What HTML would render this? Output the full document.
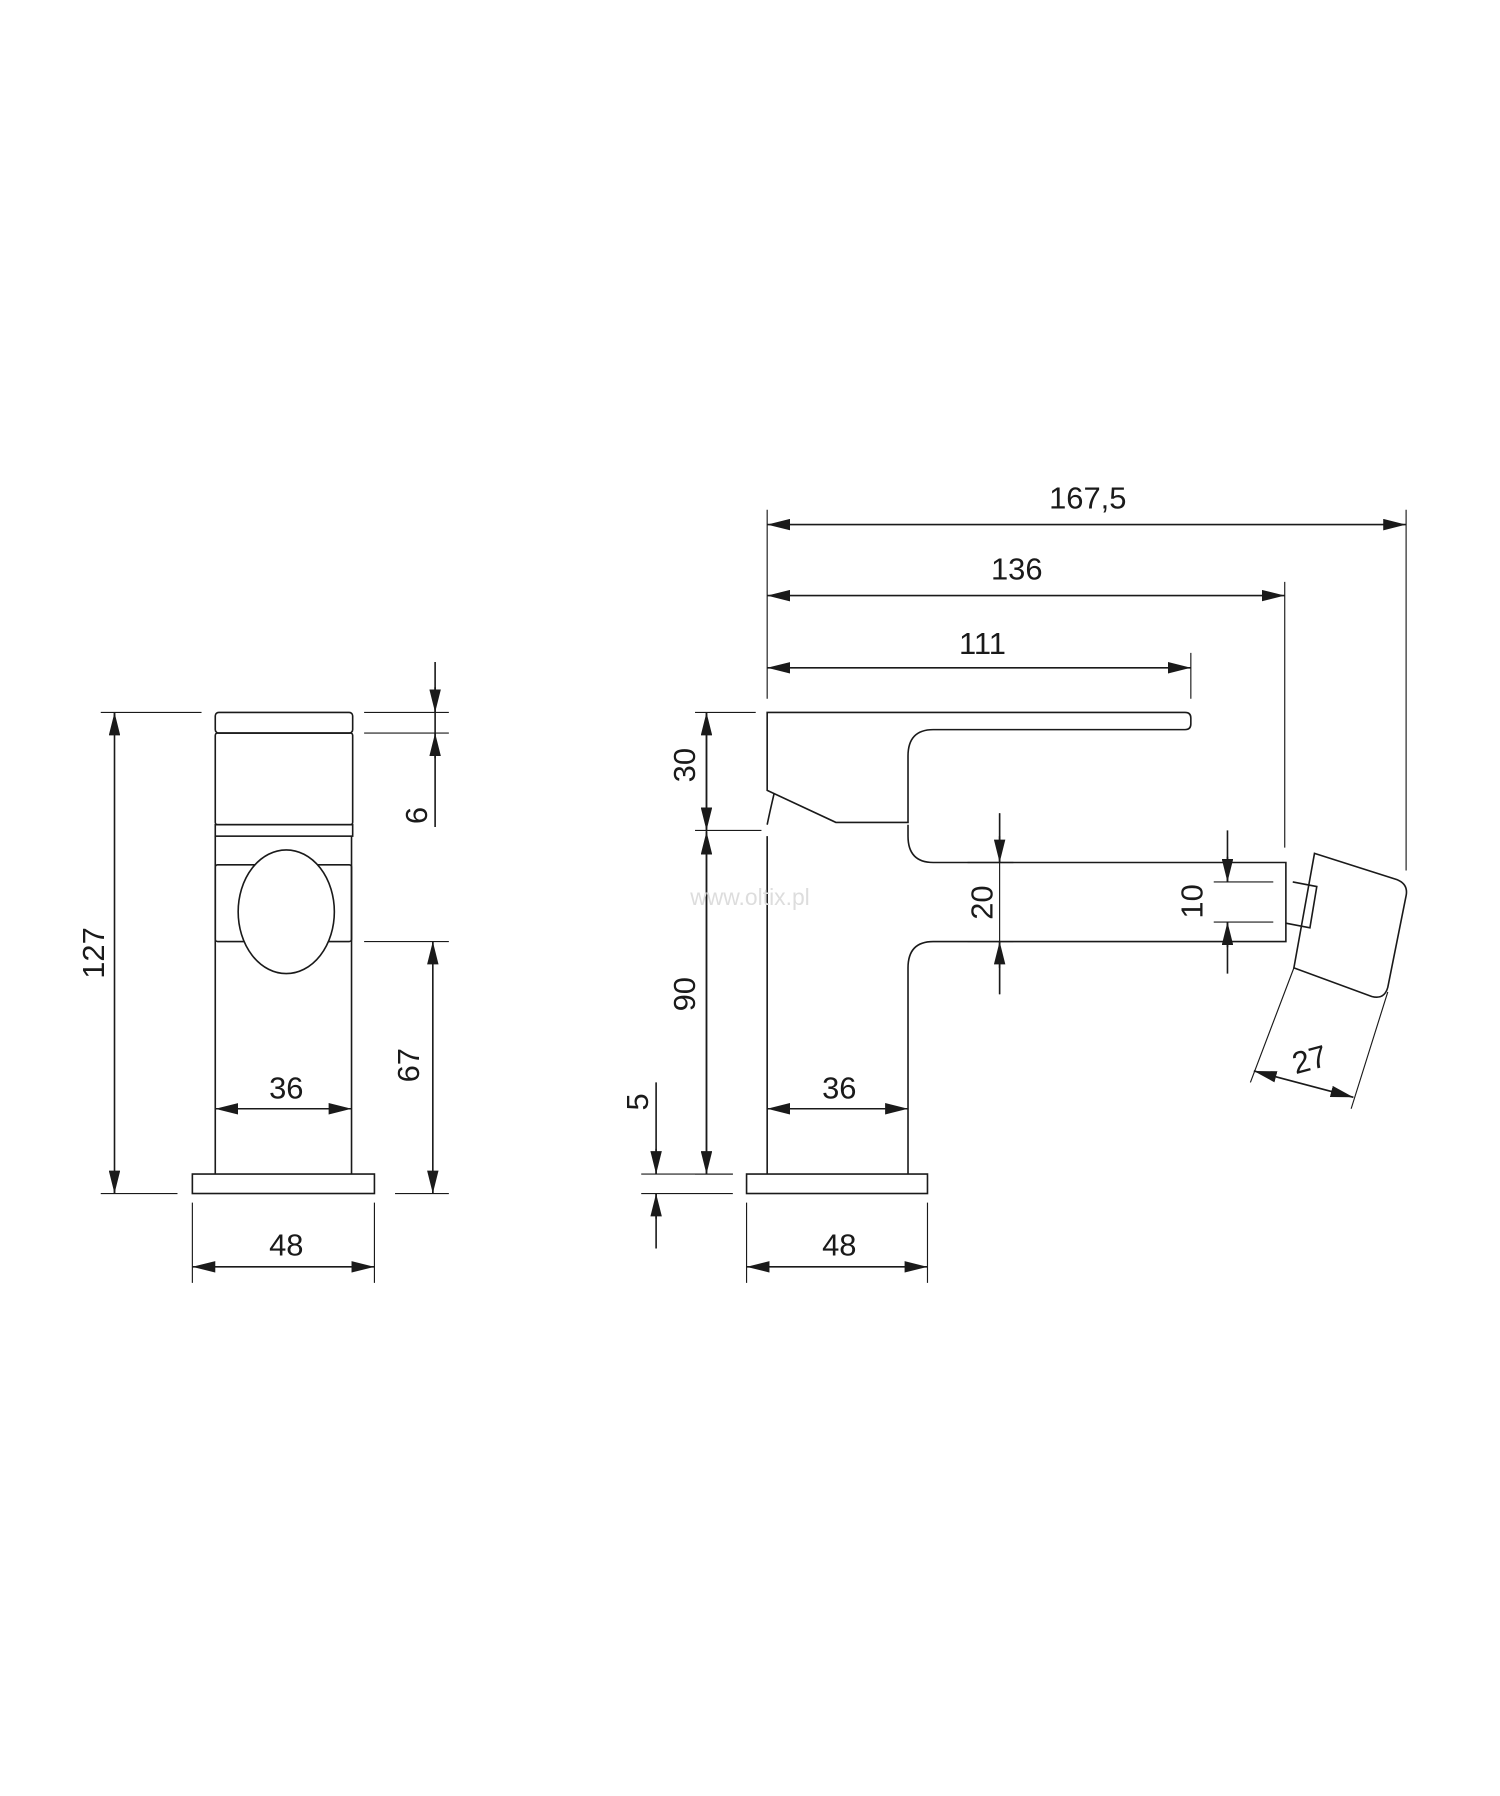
<!DOCTYPE html>
<html><head><meta charset="utf-8"><style>
html,body{margin:0;padding:0;background:#fff}
svg{display:block}
text{font-family:"Liberation Sans Narrow","Liberation Sans",sans-serif;font-size:27px;fill:#1a1a1a}
</style></head><body>
<svg width="1500" height="1796" viewBox="0 0 1310 1568" preserveAspectRatio="none" xmlns="http://www.w3.org/2000/svg">
<defs>
<marker id="a" viewBox="0 0 20 10" refX="20" refY="5" markerWidth="20" markerHeight="10" markerUnits="userSpaceOnUse" orient="auto-start-reverse"><path d="M0,0 L20,5 L0,10 z" fill="#1a1a1a"/></marker>
</defs>
<g fill="none" stroke="#1a1a1a" stroke-width="1.4">
<rect x="188" y="622" width="120" height="18" rx="3"/>
<rect x="188" y="640" width="120" height="80" rx="2"/>
<rect x="188" y="720" width="120" height="10"/>
<path d="M188 730 V1025 M307 730 V1025"/>
<rect x="188" y="755" width="119" height="67" rx="2"/>
<ellipse cx="250" cy="796" rx="42" ry="54" fill="#fff"/>
<rect x="168" y="1025" width="159" height="17"/>
<g stroke-width="1">
<path d="M88 622 H176 M88 1042 H155"/>
<path d="M318 622 H392 M318 640 H392 M318 822 H392 M345 1042 H392"/>
<path d="M168 1050 V1120 M327 1050 V1120"/>
</g>
<path d="M100 622 V1042"/>
<path d="M380 578 V722"/>
<path d="M378 822 V1042"/>
<path d="M670 622 H1035 Q1040 622 1040 627 V632 Q1040 637 1035 637 H815 Q793 637 793 660 V718 H730 L670 690 V622 Z"/>
<path d="M676 693 Q672 710 670 720"/>
<path d="M670 730 V1025"/>
<path d="M793 720 V730 Q793 753 815 753 H1123 V822 H815 Q793 822 793 845 V1025"/>
<rect x="652" y="1025" width="158" height="17"/>
<path d="M1129 770 L1150 774 L1144 810 L1123 806"/>
<path d="M1148 745 L1220 768 Q1230 772 1228 782 L1212 862 Q1209 873 1198 870 L1130 845 Z"/>
<g stroke-width="1">
<path d="M670 445 V610 M1228 445 V760 M1122 508 V740 M1040 570 V610"/>
<path d="M607 622 H660 M607 725 H665 M607 1025 H640"/>
<path d="M560 1025 H640 M560 1042 H640"/>
<path d="M845 753 H885 M845 822 H885 M873 710 V868"/>
<path d="M1060 770 H1112 M1060 805 H1112"/>
<path d="M652 1050 V1120 M810 1050 V1120"/>
<path d="M1130 845 L1092 945 M1212 866 L1180 968"/>
</g>
<path d="M617 622 V725"/>
<path d="M617 725 V1025"/>
<path d="M873 710 V753 M873 868 V822"/>
<path d="M1072 725 V770 M1072 850 V805"/>
<path d="M573 945 V1025 M573 1090 V1042"/>
</g>
<g stroke="#1a1a1a" stroke-width="1.4" fill="none">
<line x1="100" y1="640" x2="100" y2="622" marker-end="url(#a)"/>
<line x1="100" y1="1024" x2="100" y2="1042" marker-end="url(#a)"/>
<line x1="380" y1="600" x2="380" y2="622" marker-end="url(#a)"/>
<line x1="380" y1="662" x2="380" y2="640" marker-end="url(#a)"/>
<line x1="378" y1="840" x2="378" y2="822" marker-end="url(#a)"/>
<line x1="378" y1="1024" x2="378" y2="1042" marker-end="url(#a)"/>
<line x1="188" y1="968" x2="307" y2="968" marker-start="url(#a)" marker-end="url(#a)"/>
<line x1="168" y1="1106" x2="327" y2="1106" marker-start="url(#a)" marker-end="url(#a)"/>
<line x1="670" y1="458" x2="1228" y2="458" marker-start="url(#a)" marker-end="url(#a)"/>
<line x1="670" y1="520" x2="1122" y2="520" marker-start="url(#a)" marker-end="url(#a)"/>
<line x1="670" y1="583" x2="1040" y2="583" marker-start="url(#a)" marker-end="url(#a)"/>
<line x1="617" y1="622" x2="617" y2="725" marker-start="url(#a)" marker-end="url(#a)"/>
<line x1="617" y1="726" x2="617" y2="1025" marker-start="url(#a)" marker-end="url(#a)"/>
<line x1="873" y1="730" x2="873" y2="753" marker-end="url(#a)"/>
<line x1="873" y1="845" x2="873" y2="822" marker-end="url(#a)"/>
<line x1="1072" y1="748" x2="1072" y2="770" marker-end="url(#a)"/>
<line x1="1072" y1="827" x2="1072" y2="805" marker-end="url(#a)"/>
<line x1="573" y1="1003" x2="573" y2="1025" marker-end="url(#a)"/>
<line x1="573" y1="1064" x2="573" y2="1042" marker-end="url(#a)"/>
<line x1="670" y1="968" x2="793" y2="968" marker-start="url(#a)" marker-end="url(#a)"/>
<line x1="652" y1="1106" x2="810" y2="1106" marker-start="url(#a)" marker-end="url(#a)"/>
<line x1="1095" y1="935" x2="1182" y2="958" marker-start="url(#a)" marker-end="url(#a)"/>
</g>
<text x="250" y="959" text-anchor="middle">36</text>
<text x="250" y="1096" text-anchor="middle">48</text>
<text x="733" y="959" text-anchor="middle">36</text>
<text x="733" y="1096" text-anchor="middle">48</text>
<text x="950" y="444" text-anchor="middle">167,5</text>
<text x="888" y="506" text-anchor="middle">136</text>
<text x="858" y="571" text-anchor="middle">111</text>
<text transform="translate(91,832) rotate(-90)" text-anchor="middle">127</text>
<text transform="translate(373,712) rotate(-90)" text-anchor="middle">6</text>
<text transform="translate(366,930) rotate(-90)" text-anchor="middle">67</text>
<text transform="translate(607,668) rotate(-90)" text-anchor="middle">30</text>
<text transform="translate(607,868) rotate(-90)" text-anchor="middle">90</text>
<text transform="translate(566,962) rotate(-90)" text-anchor="middle">5</text>
<text transform="translate(867,788) rotate(-90)" text-anchor="middle">20</text>
<text transform="translate(1050,787) rotate(-90)" text-anchor="middle">10</text>
<text transform="translate(1146,934) rotate(-15)" text-anchor="middle">27</text>
<text x="655" y="790" text-anchor="middle" style="font-size:20px;fill:#ddd">www.oltix.pl</text>
</svg>
</body></html>
